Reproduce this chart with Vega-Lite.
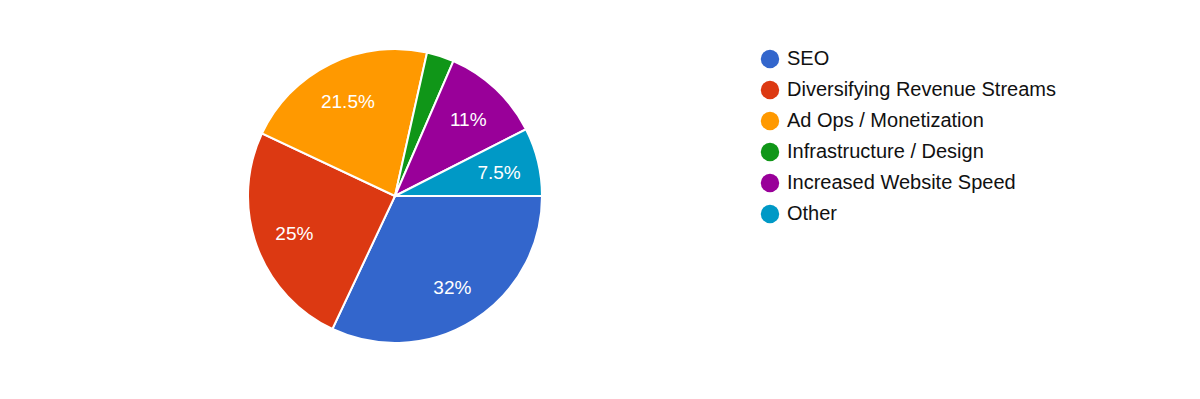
{
  "$schema": "https://vega.github.io/schema/vega-lite/v6.json",
  "width": 294,
  "height": 294,
  "padding": {"left": 248, "top": 49, "right": 658, "bottom": 56},
  "autosize": {"type": "none"},
  "background": "white",
  "config": {"view": {"stroke": null}, "font": "Liberation Sans"},
  "data": {
    "values": [
      {"category": "SEO", "value": 32, "order": 1, "label": "32%"},
      {"category": "Diversifying Revenue Streams", "value": 25, "order": 2, "label": "25%"},
      {"category": "Ad Ops / Monetization", "value": 21.5, "order": 3, "label": "21.5%"},
      {"category": "Infrastructure / Design", "value": 3, "order": 4, "label": ""},
      {"category": "Increased Website Speed", "value": 11, "order": 5, "label": "11%"},
      {"category": "Other", "value": 7.5, "order": 6, "label": "7.5%"}
    ]
  },
  "encoding": {
    "theta": {"field": "value", "type": "quantitative", "stack": true, "scale": {"range": [1.5708, 7.854]}},
    "order": {"field": "order", "type": "quantitative"},
    "color": {
      "field": "category",
      "type": "nominal",
      "scale": {
        "domain": ["SEO", "Diversifying Revenue Streams", "Ad Ops / Monetization", "Infrastructure / Design", "Increased Website Speed", "Other"],
        "range": ["#3366cc", "#dc3912", "#ff9900", "#109618", "#990099", "#0099c6"]
      },
      "legend": {
        "title": null,
        "orient": "none",
        "legendX": 512,
        "legendY": 0,
        "padding": 0,
        "symbolType": "circle",
        "symbolSize": 340,
        "symbolStrokeWidth": 0,
        "labelFontSize": 20,
        "labelColor": "#111111",
        "labelOffset": 7,
        "rowPadding": 11,
        "labelLimit": 400
      }
    }
  },
  "layer": [
    {"mark": {"type": "arc", "outerRadius": 147, "stroke": "white", "strokeWidth": 2}},
    {
      "mark": {"type": "text", "radius": 107, "fontSize": 19, "dy": 2, "fill": "white"},
      "encoding": {"text": {"field": "label"}, "color": {"value": "white"}}
    }
  ]
}
